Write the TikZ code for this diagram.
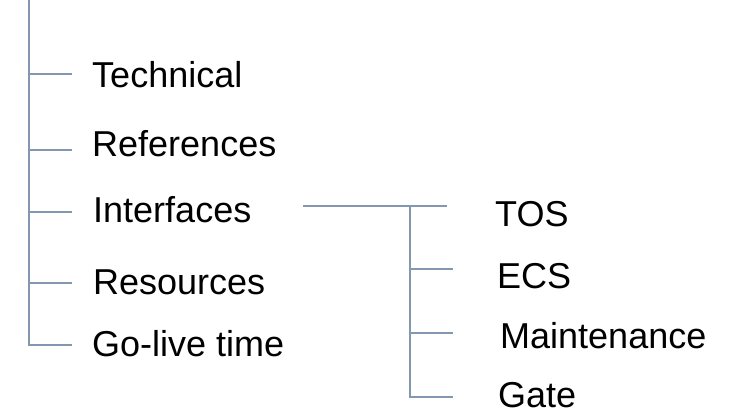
\documentclass[tikz,border=0pt]{standalone}
\usepackage{fontspec}
\setmainfont{Liberation Sans}
\definecolor{ln}{HTML}{8497B0}
\begin{document}
\begin{tikzpicture}[x=1pt,y=-1pt,
  lbl/.style={anchor=base west, inner sep=0pt, font=\fontsize{36}{40}\selectfont},
  conn/.style={draw=ln, line width=2pt}]
\useasboundingbox[fill=white] (0,0) rectangle (739,411);
% left tree
\coordinate (top) at (29,0);
\coordinate (b1) at (29,74);  \coordinate (e1) at (72,74);
\coordinate (b2) at (29,150); \coordinate (e2) at (72,150);
\coordinate (b3) at (29,212); \coordinate (e3) at (72,212);
\coordinate (b4) at (29,283); \coordinate (e4) at (72,283);
\coordinate (b5) at (29,345); \coordinate (e5) at (72,345);
\node[lbl] (technical)  at (92,88)  {Technical};
\node[lbl] (references) at (92,157) {References};
\node[lbl] (interfaces) at (93,223) {Interfaces};
\node[lbl] (resources)  at (93,295) {Resources};
\node[lbl] (golive)     at (92,357) {Go-live time};
\draw[conn] (top) -- (b5) -- (e5);
\draw[conn] (b1) -- (e1);
\draw[conn] (b2) -- (e2);
\draw[conn] (b3) -- (e3);
\draw[conn] (b4) -- (e4);
% right tree
\coordinate (hs) at (303,206); \coordinate (he) at (447,206);
\coordinate (v0) at (410,206);
\coordinate (c2) at (410,269); \coordinate (f2) at (453,269);
\coordinate (c3) at (410,333); \coordinate (f3) at (453,333);
\coordinate (c4) at (410,397); \coordinate (f4) at (453,397);
\node[lbl] (tos)   at (495,227) {TOS};
\node[lbl] (ecs)   at (497,289) {ECS};
\node[lbl] (maint) at (500,349) {Maintenance};
\node[lbl] (gate)  at (498,408) {Gate};
\draw[conn] (hs) -- (he);
\draw[conn] (v0) -- (c4) -- (f4);
\draw[conn] (c2) -- (f2);
\draw[conn] (c3) -- (f3);
\end{tikzpicture}
\end{document}
